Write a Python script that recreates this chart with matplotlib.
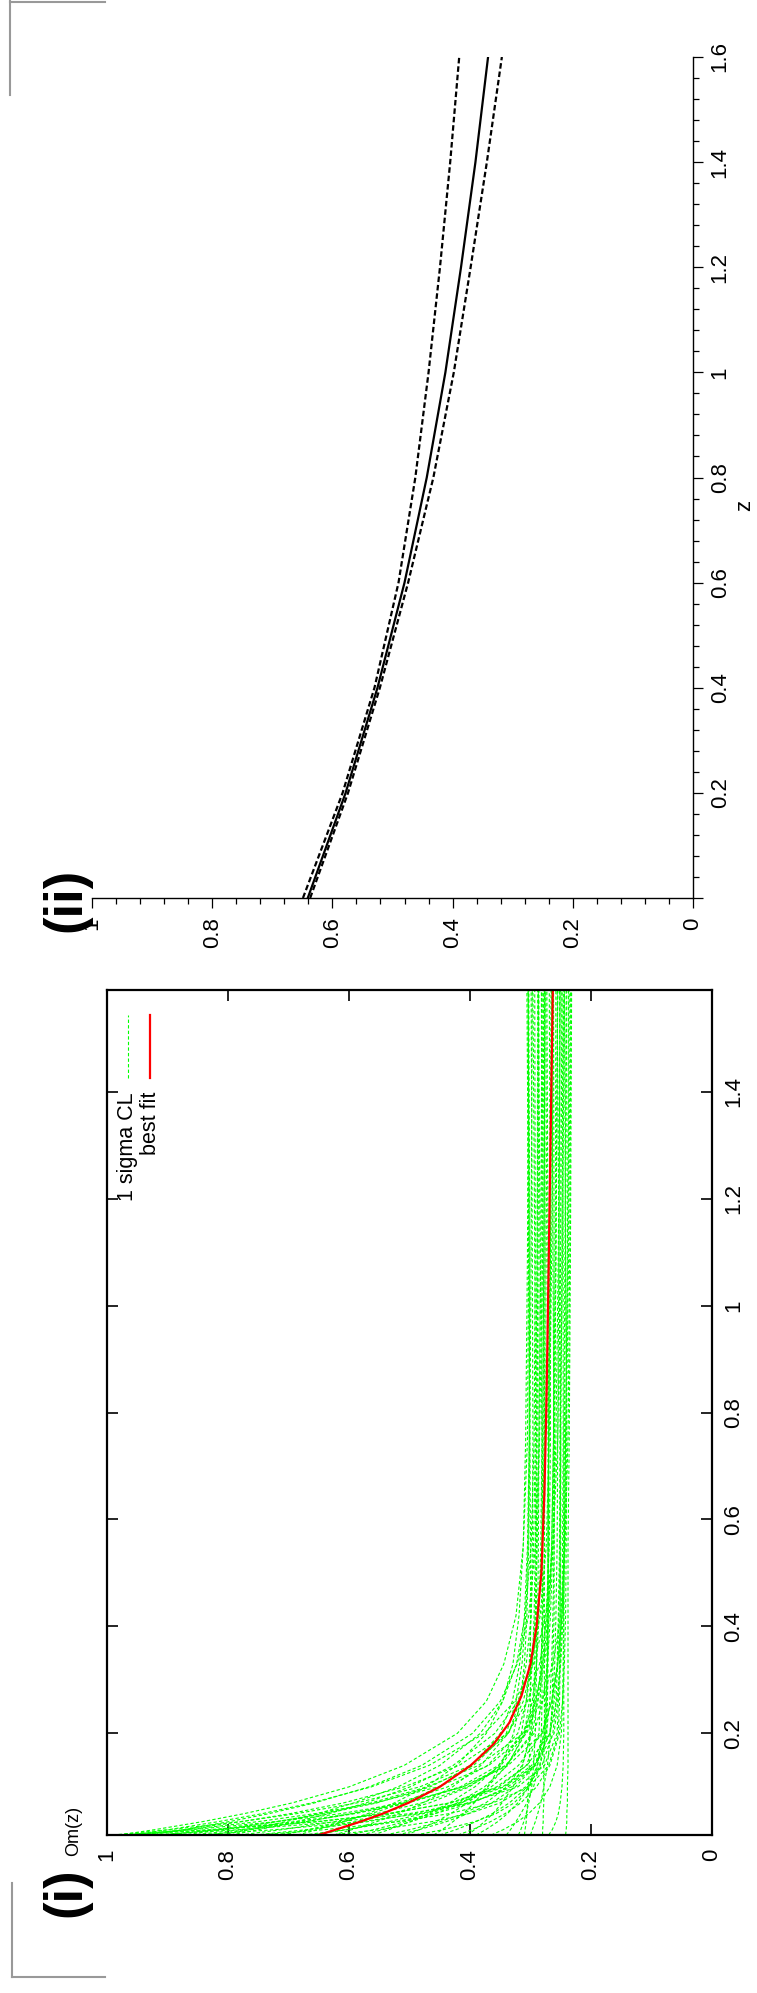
import matplotlib
matplotlib.use('Agg')
import matplotlib.pyplot as plt
from matplotlib.lines import Line2D
from matplotlib.ticker import FixedLocator, FuncFormatter

plt.rcParams['font.family'] = ['Liberation Sans', 'DejaVu Sans']

# ---------------- data: panel (i) ----------------
z_grid = [0.01, 0.02, 0.035, 0.05, 0.07, 0.1, 0.14, 0.2, 0.26, 0.33, 0.42, 0.55, 0.75, 1.1, 1.6]

sigma_curves = [
    [0.980, 0.921, 0.842, 0.773, 0.694, 0.600, 0.509, 0.421, 0.373, 0.344, 0.324, 0.312, 0.305, 0.303, 0.304],
    [0.990, 0.897, 0.780, 0.686, 0.587, 0.483, 0.399, 0.336, 0.318, 0.307, 0.299, 0.295, 0.292, 0.289, 0.287],
    [0.990, 0.831, 0.655, 0.535, 0.431, 0.346, 0.298, 0.276, 0.274, 0.272, 0.271, 0.271, 0.270, 0.268, 0.266],
    [0.960, 0.867, 0.750, 0.656, 0.557, 0.453, 0.369, 0.306, 0.288, 0.277, 0.269, 0.265, 0.262, 0.261, 0.262],
    [0.930, 0.873, 0.798, 0.732, 0.657, 0.567, 0.480, 0.396, 0.350, 0.322, 0.303, 0.292, 0.285, 0.280, 0.278],
    [0.930, 0.780, 0.614, 0.500, 0.402, 0.321, 0.277, 0.256, 0.254, 0.252, 0.251, 0.251, 0.250, 0.248, 0.245],
    [0.900, 0.820, 0.720, 0.639, 0.554, 0.466, 0.394, 0.340, 0.324, 0.314, 0.308, 0.304, 0.302, 0.301, 0.303],
    [0.860, 0.778, 0.674, 0.590, 0.503, 0.411, 0.337, 0.281, 0.265, 0.255, 0.248, 0.244, 0.242, 0.238, 0.236],
    [0.850, 0.722, 0.580, 0.483, 0.399, 0.331, 0.293, 0.275, 0.273, 0.272, 0.271, 0.271, 0.271, 0.273, 0.275],
    [0.810, 0.765, 0.704, 0.651, 0.592, 0.519, 0.450, 0.383, 0.346, 0.323, 0.309, 0.299, 0.294, 0.292, 0.293],
    [0.780, 0.711, 0.624, 0.554, 0.480, 0.404, 0.341, 0.294, 0.280, 0.272, 0.267, 0.263, 0.261, 0.258, 0.255],
    [0.750, 0.640, 0.518, 0.434, 0.362, 0.303, 0.270, 0.254, 0.252, 0.251, 0.251, 0.250, 0.250, 0.253, 0.256],
    [0.720, 0.661, 0.588, 0.529, 0.467, 0.401, 0.349, 0.309, 0.297, 0.290, 0.286, 0.283, 0.281, 0.281, 0.282],
    [0.685, 0.652, 0.608, 0.569, 0.525, 0.473, 0.422, 0.373, 0.346, 0.329, 0.319, 0.312, 0.308, 0.305, 0.303],
    [0.660, 0.604, 0.534, 0.477, 0.418, 0.356, 0.306, 0.268, 0.257, 0.250, 0.246, 0.243, 0.241, 0.237, 0.234],
    [0.630, 0.550, 0.463, 0.402, 0.350, 0.308, 0.284, 0.273, 0.272, 0.271, 0.271, 0.270, 0.270, 0.267, 0.264],
    [0.600, 0.559, 0.507, 0.465, 0.421, 0.376, 0.338, 0.310, 0.302, 0.297, 0.294, 0.292, 0.291, 0.293, 0.296],
    [0.560, 0.534, 0.499, 0.469, 0.434, 0.392, 0.352, 0.313, 0.292, 0.279, 0.271, 0.265, 0.262, 0.259, 0.258],
    [0.520, 0.484, 0.439, 0.403, 0.364, 0.325, 0.292, 0.268, 0.261, 0.256, 0.254, 0.252, 0.251, 0.247, 0.244],
    [0.490, 0.444, 0.392, 0.357, 0.327, 0.302, 0.288, 0.282, 0.281, 0.281, 0.280, 0.280, 0.280, 0.278, 0.276],
    [0.460, 0.446, 0.428, 0.411, 0.393, 0.371, 0.349, 0.328, 0.317, 0.310, 0.306, 0.303, 0.301, 0.299, 0.297],
    [0.420, 0.396, 0.366, 0.342, 0.316, 0.290, 0.268, 0.252, 0.247, 0.244, 0.242, 0.241, 0.240, 0.242, 0.244],
    [0.390, 0.374, 0.354, 0.338, 0.321, 0.303, 0.289, 0.278, 0.275, 0.273, 0.272, 0.271, 0.270, 0.271, 0.273],
    [0.340, 0.333, 0.324, 0.316, 0.306, 0.295, 0.285, 0.274, 0.268, 0.265, 0.263, 0.261, 0.261, 0.263, 0.265],
    [0.320, 0.316, 0.311, 0.307, 0.303, 0.298, 0.295, 0.292, 0.291, 0.290, 0.290, 0.290, 0.289, 0.288, 0.286],
    [0.270, 0.264, 0.258, 0.254, 0.251, 0.248, 0.246, 0.245, 0.245, 0.245, 0.245, 0.245, 0.244, 0.242, 0.240],
    [0.280, 0.280, 0.279, 0.279, 0.278, 0.278, 0.278, 0.277, 0.277, 0.277, 0.277, 0.277, 0.278, 0.279, 0.281],
    [0.242, 0.241, 0.240, 0.240, 0.239, 0.239, 0.238, 0.238, 0.238, 0.238, 0.238, 0.238, 0.236, 0.234, 0.232],
    [0.310, 0.309, 0.307, 0.306, 0.305, 0.303, 0.302, 0.301, 0.300, 0.300, 0.300, 0.300, 0.301, 0.303, 0.306],
    [0.300, 0.297, 0.292, 0.288, 0.283, 0.278, 0.272, 0.267, 0.264, 0.263, 0.261, 0.261, 0.260, 0.258, 0.255],
    [0.970, 0.818, 0.649, 0.534, 0.434, 0.352, 0.307, 0.286, 0.284, 0.282, 0.281, 0.281, 0.281, 0.284, 0.287],
    [0.960, 0.898, 0.816, 0.743, 0.662, 0.563, 0.468, 0.376, 0.326, 0.295, 0.275, 0.263, 0.255, 0.250, 0.248],
    [0.975, 0.859, 0.720, 0.613, 0.510, 0.412, 0.341, 0.297, 0.288, 0.283, 0.279, 0.277, 0.276, 0.276, 0.278],
    [0.945, 0.873, 0.777, 0.697, 0.609, 0.509, 0.418, 0.338, 0.305, 0.285, 0.272, 0.263, 0.258, 0.254, 0.251],
    [0.915, 0.812, 0.689, 0.594, 0.503, 0.416, 0.353, 0.315, 0.307, 0.302, 0.299, 0.297, 0.296, 0.297, 0.299],
    [0.875, 0.808, 0.719, 0.645, 0.563, 0.471, 0.386, 0.312, 0.281, 0.263, 0.250, 0.243, 0.238, 0.235, 0.233],
    [0.835, 0.762, 0.670, 0.596, 0.518, 0.437, 0.371, 0.321, 0.307, 0.298, 0.292, 0.289, 0.286, 0.286, 0.287],
    [0.795, 0.749, 0.687, 0.633, 0.572, 0.499, 0.428, 0.359, 0.321, 0.299, 0.284, 0.274, 0.269, 0.265, 0.262],
    [0.755, 0.670, 0.569, 0.491, 0.416, 0.344, 0.293, 0.261, 0.255, 0.251, 0.248, 0.247, 0.246, 0.246, 0.248],
    [0.710, 0.667, 0.610, 0.563, 0.510, 0.451, 0.397, 0.350, 0.330, 0.318, 0.310, 0.305, 0.302, 0.302, 0.304],
    [0.675, 0.605, 0.522, 0.458, 0.396, 0.337, 0.294, 0.268, 0.263, 0.260, 0.258, 0.256, 0.255, 0.253, 0.251],
    [0.625, 0.595, 0.554, 0.518, 0.478, 0.429, 0.382, 0.337, 0.312, 0.297, 0.287, 0.281, 0.277, 0.276, 0.277],
    [0.580, 0.544, 0.497, 0.458, 0.414, 0.365, 0.320, 0.281, 0.265, 0.255, 0.248, 0.244, 0.242, 0.239, 0.237],
    [0.540, 0.499, 0.449, 0.411, 0.374, 0.339, 0.314, 0.298, 0.295, 0.293, 0.292, 0.291, 0.290, 0.289, 0.288],
    [0.505, 0.484, 0.456, 0.432, 0.404, 0.371, 0.339, 0.308, 0.291, 0.280, 0.274, 0.269, 0.267, 0.267, 0.269],
    [0.450, 0.423, 0.390, 0.363, 0.335, 0.305, 0.281, 0.263, 0.258, 0.255, 0.253, 0.251, 0.251, 0.251, 0.252],
    [0.405, 0.392, 0.376, 0.362, 0.347, 0.329, 0.313, 0.300, 0.294, 0.290, 0.288, 0.287, 0.286, 0.283, 0.281],
    [0.365, 0.345, 0.321, 0.303, 0.285, 0.268, 0.256, 0.249, 0.247, 0.246, 0.245, 0.245, 0.245, 0.243, 0.241],
]

z_best = [0.01, 0.02, 0.035, 0.05, 0.07, 0.1, 0.14, 0.18, 0.22, 0.27, 0.33, 0.4, 0.5, 0.65, 0.8, 1.0, 1.3, 1.6]
best_fit = [0.650, 0.622, 0.581, 0.544, 0.502, 0.450, 0.399, 0.361, 0.335, 0.315, 0.300, 0.290, 0.282,
            0.277, 0.274, 0.271, 0.267, 0.263]

# ---------------- data: panel (ii) ----------------
z2 = [0.0, 0.2, 0.4, 0.6, 0.8, 1.0, 1.2, 1.4, 1.6]
om2_best = [0.641, 0.578, 0.525, 0.480, 0.443, 0.412, 0.386, 0.362, 0.341]
om2_upper = [0.649, 0.583, 0.530, 0.490, 0.462, 0.440, 0.421, 0.404, 0.389]
om2_lower = [0.637, 0.574, 0.521, 0.474, 0.432, 0.398, 0.370, 0.343, 0.318]

om_ticks = [0, 0.2, 0.4, 0.6, 0.8, 1.0]
z_ticks_1 = [0.2, 0.4, 0.6, 0.8, 1.0, 1.2, 1.4]
z_ticks_2 = [0.0, 0.2, 0.4, 0.6, 0.8, 1.0, 1.2, 1.4, 1.6]
minor_om = [i * 0.04 for i in range(26)]
minor_z = [i * 0.04 for i in range(41)]

legend_labels = ['1 sigma CL', 'best fit']

W, H = 757, 1993
fig = plt.figure(figsize=(W / 100, H / 100), dpi=100)


def rect(l, t, r, b):
    return [l / W, 1 - b / H, (r - l) / W, (b - t) / H]


def fx(x):
    return x / W


def fy(y):
    return 1 - y / H


fmt = FuncFormatter(lambda v, p: f"{v:g}")
fmt_noz = FuncFormatter(lambda v, p: "" if abs(v) < 1e-9 else f"{v:g}")

TICK_FS = 16

# ---------------- panel (i) ----------------
ax1 = fig.add_axes(rect(107, 990, 712, 1835))
for c in sigma_curves:
    ax1.plot(c, z_grid, color='#00ff00', lw=0.8, dashes=(3, 2))
ax1.plot(best_fit, z_best, color='#ff0000', lw=1.6)
ax1.set_xlim(1, 0)
ax1.set_ylim(0.01, 1.59)
ax1.xaxis.set_major_locator(FixedLocator(om_ticks))
ax1.yaxis.set_major_locator(FixedLocator(z_ticks_1))
ax1.xaxis.set_major_formatter(fmt)
ax1.yaxis.set_major_formatter(fmt)
ax1.tick_params(direction='in', length=8, width=1.2, top=True, bottom=True,
                left=True, right=True, labelleft=False, labelright=True,
                labelbottom=True, labelsize=TICK_FS)
ax1.tick_params(axis='x', pad=10)
ax1.tick_params(axis='y', pad=8)
for s in ax1.spines.values():
    s.set_linewidth(1.6)
plt.setp(ax1.get_xticklabels(), rotation=90, ha='center', va='top')
plt.setp(ax1.get_yticklabels(), rotation=90, ha='left', va='center')

# legend (rotated page, drawn by hand)
fig.text(fx(128), fy(1092), legend_labels[0], rotation=90, ha='center', va='top', fontsize=15.5)
fig.text(fx(150), fy(1092), legend_labels[1], rotation=90, ha='center', va='top', fontsize=15.5)
fig.add_artist(Line2D([fx(128), fx(128)], [fy(1078), fy(1015)], color='#00ff00', lw=0.8,
                      dashes=(3, 2)))
fig.add_artist(Line2D([fx(150), fx(150)], [fy(1078), fy(1015)], color='#ff0000', lw=1.6))

fig.text(fx(74), fy(1831), 'Om(z)', rotation=90, ha='center', va='center', fontsize=13)
fig.text(fx(66), fy(1892), '(i)', rotation=90, ha='center', va='center', fontsize=38,
         fontweight='bold')

# ---------------- panel (ii) ----------------
ax2 = fig.add_axes(rect(92, 57, 693, 898))
ax2.plot(om2_best, z2, color='black', lw=1.6)
ax2.plot(om2_upper, z2, color='black', lw=1.6, dashes=(2.5, 1.3))
ax2.plot(om2_lower, z2, color='black', lw=1.6, dashes=(2.5, 1.3))
ax2.set_xlim(1, 0)
ax2.set_ylim(0, 1.6)
ax2.spines['top'].set_visible(False)
ax2.spines['left'].set_visible(False)
for s in ('bottom', 'right'):
    ax2.spines[s].set_linewidth(1.0)
ax2.xaxis.set_major_locator(FixedLocator(om_ticks))
ax2.xaxis.set_minor_locator(FixedLocator(minor_om))
ax2.yaxis.set_major_locator(FixedLocator(z_ticks_2))
ax2.yaxis.set_minor_locator(FixedLocator(minor_z))
ax2.xaxis.set_major_formatter(fmt)
ax2.yaxis.set_major_formatter(fmt_noz)
ax2.yaxis.tick_right()
ax2.tick_params(which='both', direction='out', width=0.9, labelsize=TICK_FS)
ax2.tick_params(which='major', length=7)
ax2.tick_params(which='minor', length=4)
ax2.tick_params(axis='x', pad=7)
ax2.tick_params(axis='y', pad=5)
plt.setp(ax2.get_xticklabels(), rotation=90, ha='center', va='top')
plt.setp(ax2.get_yticklabels(), rotation=90, ha='left', va='center')

fig.text(fx(745), fy(505), 'z', rotation=90, ha='center', va='center', fontsize=16)
fig.text(fx(66), fy(900), '(ii)', rotation=90, ha='center', va='center', fontsize=38,
         fontweight='bold')

# ---------------- crop marks ----------------
gray = '#999999'
fig.add_artist(Line2D([fx(10), fx(10)], [fy(0), fy(95)], color=gray, lw=1.5))
fig.add_artist(Line2D([fx(10), fx(105)], [fy(1.5), fy(1.5)], color=gray, lw=1.5))
fig.add_artist(Line2D([fx(12), fx(12)], [fy(1883), fy(1977)], color=gray, lw=1.5))
fig.add_artist(Line2D([fx(12), fx(105)], [fy(1977), fy(1977)], color=gray, lw=1.5))

fig.savefig('out.png', dpi=100)
